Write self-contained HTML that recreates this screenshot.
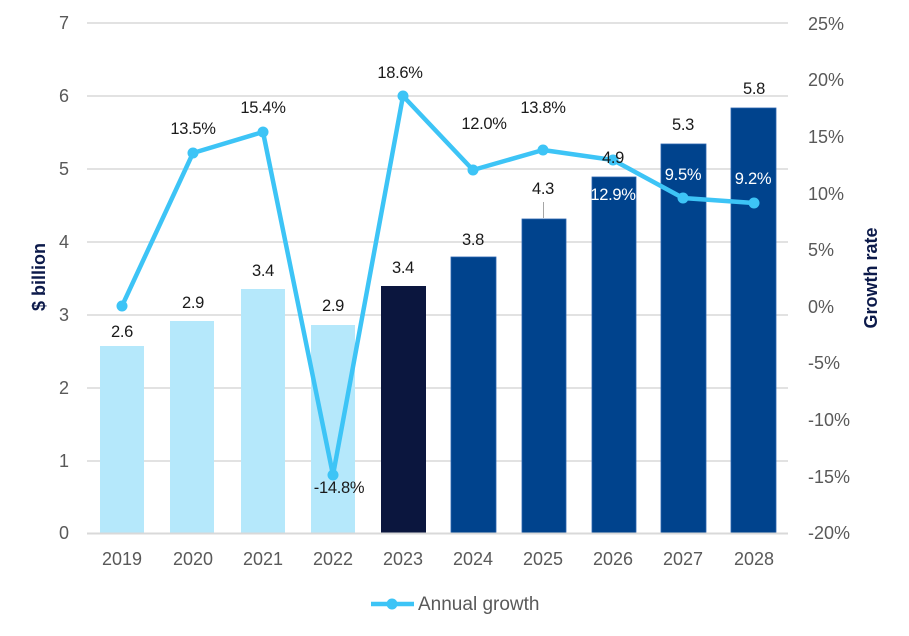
<!DOCTYPE html>
<html><head><meta charset="utf-8"><style>
html,body{margin:0;padding:0;background:#fff;}
svg{display:block;}
text{font-family:"Liberation Sans",sans-serif;}
.tk{font-size:18px;fill:#595959;}
.dl{font-size:16.5px;fill:#1a1a1a;text-anchor:middle;letter-spacing:-0.3px;}
.wl{font-size:16.5px;fill:#ffffff;text-anchor:middle;letter-spacing:-0.3px;}
.at{font-size:18px;font-weight:bold;fill:#0c1a4a;text-anchor:middle;}
</style></head><body>
<svg width="909" height="636" viewBox="0 0 909 636" xmlns="http://www.w3.org/2000/svg">
<rect width="909" height="636" fill="#fff"/>
<g stroke="#d9d9d9" stroke-width="1.5">
<line x1="87" y1="23" x2="788" y2="23"/>
<line x1="87" y1="96" x2="788" y2="96"/>
<line x1="87" y1="169" x2="788" y2="169"/>
<line x1="87" y1="242" x2="788" y2="242"/>
<line x1="87" y1="315" x2="788" y2="315"/>
<line x1="87" y1="388" x2="788" y2="388"/>
<line x1="87" y1="461" x2="788" y2="461"/>
</g>
<g>
<rect x="100" y="346" width="44" height="187" fill="#b5e8fb"/>
<rect x="170" y="321" width="44" height="212" fill="#b5e8fb"/>
<rect x="241" y="289" width="44" height="244" fill="#b5e8fb"/>
<rect x="311" y="325" width="44" height="208" fill="#b5e8fb"/>
<rect x="381" y="286" width="45" height="247" fill="#0b163e"/>
<rect x="451" y="257" width="45" height="276" fill="#00438d" stroke="#2a64b0" stroke-width="0.8"/>
<rect x="522" y="219" width="44" height="314" fill="#00438d" stroke="#2a64b0" stroke-width="0.8"/>
<rect x="592" y="177" width="44" height="356" fill="#00438d" stroke="#2a64b0" stroke-width="0.8"/>
<rect x="661" y="144" width="45" height="389" fill="#00438d" stroke="#2a64b0" stroke-width="0.8"/>
<rect x="731" y="108" width="45" height="425" fill="#00438d" stroke="#2a64b0" stroke-width="0.8"/>
</g>
<line x1="87" y1="533.5" x2="788" y2="533.5" stroke="#d9d9d9" stroke-width="2"/>
<line x1="543.5" y1="202" x2="543.5" y2="218" stroke="#a6a6a6" stroke-width="1"/>
<polyline fill="none" stroke="#3dc4f6" stroke-width="4.5" stroke-linejoin="round" stroke-linecap="round"
 points="122,306 193,153 263,132 333,475 403,96 473,170 543,150 613,160 683,198 754,203"/>
<g fill="#3dc4f6">
<circle cx="122" cy="306" r="5.5"/>
<circle cx="193" cy="153" r="5.5"/>
<circle cx="263" cy="132" r="5.5"/>
<circle cx="333" cy="475" r="5.5"/>
<circle cx="403" cy="96" r="5.5"/>
<circle cx="473" cy="170" r="5.5"/>
<circle cx="543" cy="150" r="5.5"/>
<circle cx="613" cy="160" r="5.5"/>
<circle cx="683" cy="198" r="5.5"/>
<circle cx="754" cy="203" r="5.5"/>
</g>
<text class="dl" x="122" y="337">2.6</text>
<text class="dl" x="193" y="308">2.9</text>
<text class="dl" x="263" y="276">3.4</text>
<text class="dl" x="333" y="311">2.9</text>
<text class="dl" x="403" y="273">3.4</text>
<text class="dl" x="473" y="245">3.8</text>
<text class="dl" x="543" y="194">4.3</text>
<text class="dl" x="613" y="163">4.9</text>
<text class="dl" x="683" y="130">5.3</text>
<text class="dl" x="754" y="94">5.8</text>
<text class="dl" x="193" y="134">13.5%</text>
<text class="dl" x="263" y="113">15.4%</text>
<text class="dl" x="339" y="493">-14.8%</text>
<text class="dl" x="400" y="78">18.6%</text>
<text class="dl" x="484" y="129">12.0%</text>
<text class="dl" x="543" y="113">13.8%</text>
<text class="wl" x="613" y="200">12.9%</text>
<text class="wl" x="683" y="180">9.5%</text>
<text class="wl" x="753" y="184">9.2%</text>
<g class="tk" text-anchor="end">
<text x="69" y="29">7</text>
<text x="69" y="102">6</text>
<text x="69" y="175">5</text>
<text x="69" y="248">4</text>
<text x="69" y="321">3</text>
<text x="69" y="394">2</text>
<text x="69" y="467">1</text>
<text x="69" y="539">0</text>
</g>
<g class="tk" text-anchor="start">
<text x="808" y="30">25%</text>
<text x="808" y="86">20%</text>
<text x="808" y="143">15%</text>
<text x="808" y="200">10%</text>
<text x="808" y="256">5%</text>
<text x="808" y="313">0%</text>
<text x="808" y="369">-5%</text>
<text x="808" y="426">-10%</text>
<text x="808" y="483">-15%</text>
<text x="808" y="539">-20%</text>
</g>
<g class="tk" text-anchor="middle">
<text x="122" y="565">2019</text>
<text x="193" y="565">2020</text>
<text x="263" y="565">2021</text>
<text x="333" y="565">2022</text>
<text x="403" y="565">2023</text>
<text x="473" y="565">2024</text>
<text x="543" y="565">2025</text>
<text x="613" y="565">2026</text>
<text x="683" y="565">2027</text>
<text x="754" y="565">2028</text>
</g>
<text class="at" transform="translate(45,277) rotate(-90)">$ billion</text>
<text class="at" transform="translate(877,278) rotate(-90)">Growth rate</text>
<line x1="371" y1="604" x2="414" y2="604" stroke="#3dc4f6" stroke-width="4.5"/>
<circle cx="392" cy="604" r="5.5" fill="#3dc4f6"/>
<text x="418" y="610" style="font-size:19px;fill:#595959;">Annual growth</text>
</svg>
</body></html>
